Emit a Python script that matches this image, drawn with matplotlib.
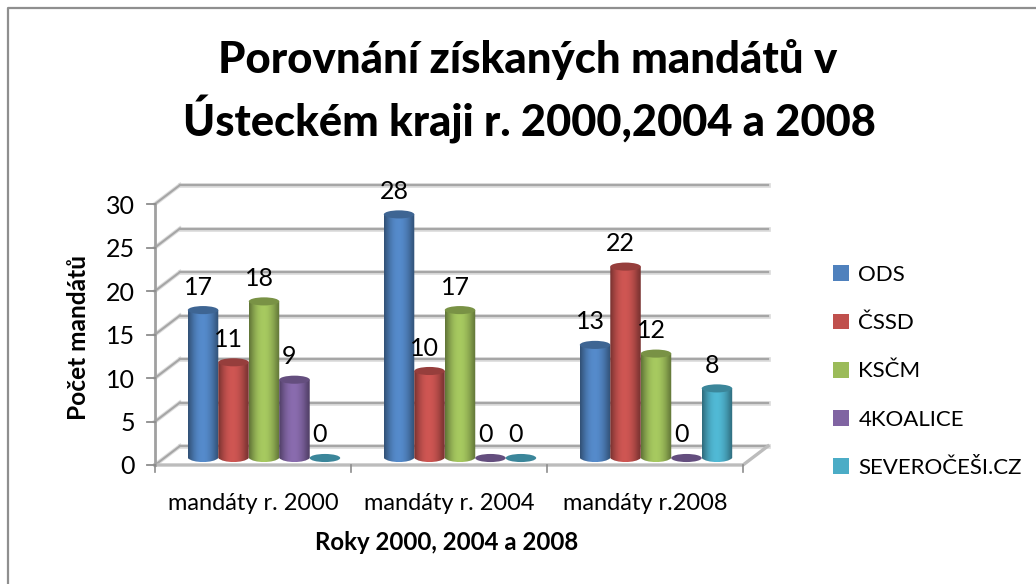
import numpy as np
import matplotlib
matplotlib.use('Agg')
import matplotlib.pyplot as plt
from matplotlib.patches import Ellipse, Patch, PathPatch
from matplotlib.path import Path
from matplotlib.transforms import Affine2D
from matplotlib.colors import to_rgb

plt.rcParams['font.family'] = ['Lato', 'DejaVu Sans']

categories = ['mandáty r. 2000', 'mandáty r. 2004', 'mandáty r.2008']
parties = ['ODS', 'ČSSD', 'KSČM', '4KOALICE', 'SEVEROČEŠI.CZ']
ods = [17, 28, 13]
cssd = [11, 10, 22]
kscm = [18, 17, 12]
koalice = [9, 0, 0]
severocesi = [0, 0, 8]
series = [ods, cssd, kscm, koalice, severocesi]
colors = ['#4f81bd', '#c0504d', '#9bbb59', '#8064a2', '#4bacc6']
yticks = [0, 5, 10, 15, 20, 25, 30]

W, H = 1036, 584
fig = plt.figure(figsize=(W / 100, H / 100), dpi=100)

# chart border, the crop only leaves left and top
fig.add_artist(plt.Line2D([8 / W, 8 / W, 1], [0, 1 - 8 / H, 1 - 8 / H], color='#8f8f8f', lw=1.6))

# front plane of the fake 3d box, in pixels
ax = fig.add_axes([155 / W, 1 - 465 / H, 588 / W, 261 / H])
ax.set_xlim(0, 3)
ax.set_ylim(0, 30)
ax.axis('off')

back = ax.transData + Affine2D().translate(25, 19)
mid = ax.transData + Affine2D().translate(11, 7)

grid = '#a6a6a6'
for v in yticks:
    ax.plot([0, 3], [v, v], transform=back, color='#dddddd', lw=3.4, clip_on=False, zorder=1)
    ax.plot([0, 3], [v, v], transform=back, color=grid, lw=1.6, clip_on=False, zorder=1.1)
    p0 = ax.transData.transform((0, v))
    xs = [p0[0], p0[0] + 25]
    ys = [p0[1], p0[1] + 19]
    ax.plot(xs, ys, transform=None, color='#dddddd', lw=3, clip_on=False, zorder=1)
    ax.plot(xs, ys, transform=None, color=grid, lw=1.5, clip_on=False, zorder=1.1)
    ax.plot([p0[0] - 8, p0[0]], [p0[1], p0[1]], transform=None, color='#8c8c8c', lw=1.3, clip_on=False)
    ax.annotate(str(v), (0, v), xytext=(-20, -2), textcoords='offset pixels', ha='right',
                va='center', fontsize=18, color='black')

# floor and left wall edge
p0 = ax.transData.transform((0, 0))
p1 = ax.transData.transform((3, 0))
ax.plot([p0[0], p1[0], p1[0] + 25], [p0[1], p1[1], p1[1] + 19], transform=None,
        color='#bcbcbc', lw=2.4, clip_on=False, zorder=1.2)
ax.plot([0, 0], [0, 30], color='#a0a0a0', lw=2, clip_on=False, zorder=1.2)
for i in range(4):
    px = ax.transData.transform((i, 0))
    ax.plot([px[0], px[0]], [px[1], px[1] - 7], transform=None, color='#8c8c8c', lw=1.2, clip_on=False)

# cylinders
bar_w = 0.1555
cap_h = 0.62
n = len(series)
shade = np.array([0.62, 0.78, 0.92, 1.02, 1.07, 1.08, 1.05, 0.98, 0.88, 0.74, 0.62])
xfine = np.linspace(0, 1, 60)
profile = np.interp(xfine, np.linspace(0, 1, len(shade)), shade)
for i, vals in enumerate(series):
    rgb = np.array(to_rgb(colors[i]))
    img = np.clip(profile[None, :, None] * rgb[None, None, :], 0, 1)
    for j, v in enumerate(vals):
        left = j + 0.5 - n * bar_w / 2 + i * bar_w
        cx = left + bar_w / 2
        z = 3 + i * 0.01
        if v > 0:
            verts = [(left, v), (left + bar_w, v), (left + bar_w, 0),
                     (left + bar_w * 0.85, -cap_h), (left + bar_w * 0.15, -cap_h), (left, 0), (left, v)]
            codes = [Path.MOVETO, Path.LINETO, Path.LINETO, Path.CURVE4, Path.CURVE4, Path.CURVE4, Path.LINETO]
            im = ax.imshow(img, extent=(left, left + bar_w, -cap_h, v), transform=mid, aspect='auto',
                           interpolation='bilinear', zorder=z)
            im.set_clip_path(PathPatch(Path(verts, codes), transform=mid))
        ax.add_patch(Ellipse((cx, v), bar_w, 2 * cap_h * 0.75, transform=mid,
                             fc=tuple(rgb * 0.78), ec='none', zorder=z + 0.001))
        ax.annotate(str(v), (cx, v), xytext=(-5, 23), xycoords=mid, textcoords='offset pixels',
                    ha='center', va='center', fontsize=18, color='black', zorder=6)

# imshow resets the limits
ax.set_xlim(0, 3)
ax.set_ylim(0, 30)

for j, c in enumerate(categories):
    ax.annotate(c, (j + 0.5, 0), xytext=(0, -39), textcoords='offset pixels', ha='center',
                va='center', fontsize=17, color='black')

fig.text(447 / W, 1 - 543 / H, 'Roky 2000, 2004 a 2008', ha='center', va='center',
         fontsize=17.3, fontweight='bold')
fig.text(79 / W, 1 - 337 / H, 'Počet mandátů', rotation=90, ha='center', va='center',
         fontsize=17.6, fontweight='bold')
fig.text(528 / W, 1 - 60 / H, 'Porovnání získaných mandátů v', ha='center', va='center',
         fontsize=31.5, fontweight='black')
fig.text(529 / W, 1 - 120 / H, 'Ústeckém kraji r. 2000,2004 a 2008', ha='center', va='center',
         fontsize=31.2, fontweight='black')

handles = [Patch(fc=c, ec='none') for c in colors]
fig.legend(handles, parties, loc='upper left', bbox_to_anchor=(833 / W, 1 - 265 / H), frameon=False,
           fontsize=16, handlelength=0.72, handleheight=0.72, handletextpad=0.42, labelspacing=1.27,
           borderpad=0, borderaxespad=0)

fig.savefig('out.png', dpi=100)
